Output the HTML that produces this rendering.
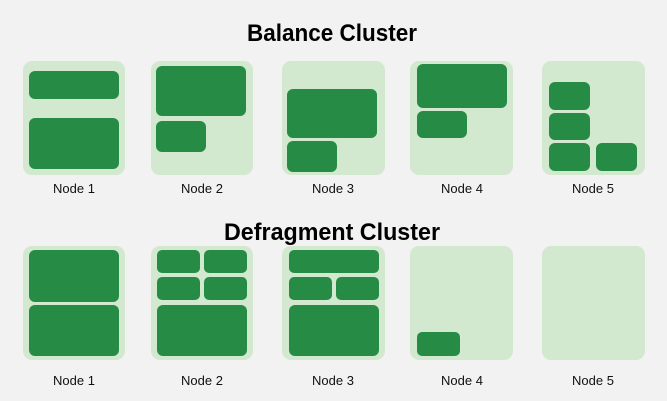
<!DOCTYPE html>
<html><head><meta charset="utf-8"><style>
html,body{margin:0;padding:0;background:#f2f2f2;}
svg{display:block;}
</style></head><body>
<svg width="667" height="401" viewBox="0 0 667 401" xmlns="http://www.w3.org/2000/svg" font-family="Liberation Sans, sans-serif">
<rect width="667" height="401" fill="#f2f2f2"/>
<text x="247" y="41" font-size="24" font-weight="bold" textLength="170" lengthAdjust="spacingAndGlyphs" fill="#000">Balance Cluster</text>
<text x="224" y="240" font-size="24" font-weight="bold" textLength="216" lengthAdjust="spacingAndGlyphs" fill="#000">Defragment Cluster</text>
<g fill="#d3e9cf">
<rect x="23" y="61" width="102" height="114" rx="9"/>
<rect x="151" y="61" width="102" height="114" rx="9"/>
<rect x="282" y="61" width="103" height="114" rx="9"/>
<rect x="410" y="61" width="103" height="114" rx="9"/>
<rect x="542" y="61" width="103" height="114" rx="9"/>
<rect x="23" y="246" width="102" height="114" rx="9"/>
<rect x="151" y="246" width="102" height="114" rx="9"/>
<rect x="282" y="246" width="103" height="114" rx="9"/>
<rect x="410" y="246" width="103" height="114" rx="9"/>
<rect x="542" y="246" width="103" height="114" rx="9"/>
</g>
<g fill="#268c45">
<rect x="29" y="71" width="90" height="28" rx="6"/>
<rect x="29" y="118" width="90" height="51" rx="6"/>
<rect x="156" y="66" width="90" height="50" rx="6"/>
<rect x="156" y="121" width="50" height="31" rx="6"/>
<rect x="287" y="89" width="90" height="49" rx="6"/>
<rect x="287" y="141" width="50" height="31" rx="6"/>
<rect x="417" y="64" width="90" height="44" rx="6"/>
<rect x="417" y="111" width="50" height="27" rx="6"/>
<rect x="549" y="82" width="41" height="28" rx="6"/>
<rect x="549" y="113" width="41" height="27" rx="6"/>
<rect x="549" y="143" width="41" height="28" rx="6"/>
<rect x="596" y="143" width="41" height="28" rx="6"/>

<rect x="29" y="250" width="90" height="52" rx="6"/>
<rect x="29" y="305" width="90" height="51" rx="6"/>
<rect x="157" y="250" width="43" height="23" rx="5"/>
<rect x="204" y="250" width="43" height="23" rx="5"/>
<rect x="157" y="277" width="43" height="23" rx="5"/>
<rect x="204" y="277" width="43" height="23" rx="5"/>
<rect x="157" y="305" width="90" height="51" rx="6"/>
<rect x="289" y="250" width="90" height="23" rx="5"/>
<rect x="289" y="277" width="43" height="23" rx="5"/>
<rect x="336" y="277" width="43" height="23" rx="5"/>
<rect x="289" y="305" width="90" height="51" rx="6"/>
<rect x="417" y="332" width="43" height="24" rx="5"/>
</g>
<g font-size="13" fill="#111" text-anchor="middle">
<text x="74" y="193">Node 1</text>
<text x="202" y="193">Node 2</text>
<text x="333" y="193">Node 3</text>
<text x="462" y="193">Node 4</text>
<text x="593" y="193">Node 5</text>
<text x="74" y="385">Node 1</text>
<text x="202" y="385">Node 2</text>
<text x="333" y="385">Node 3</text>
<text x="462" y="385">Node 4</text>
<text x="593" y="385">Node 5</text>
</g>
</svg>
</body></html>
